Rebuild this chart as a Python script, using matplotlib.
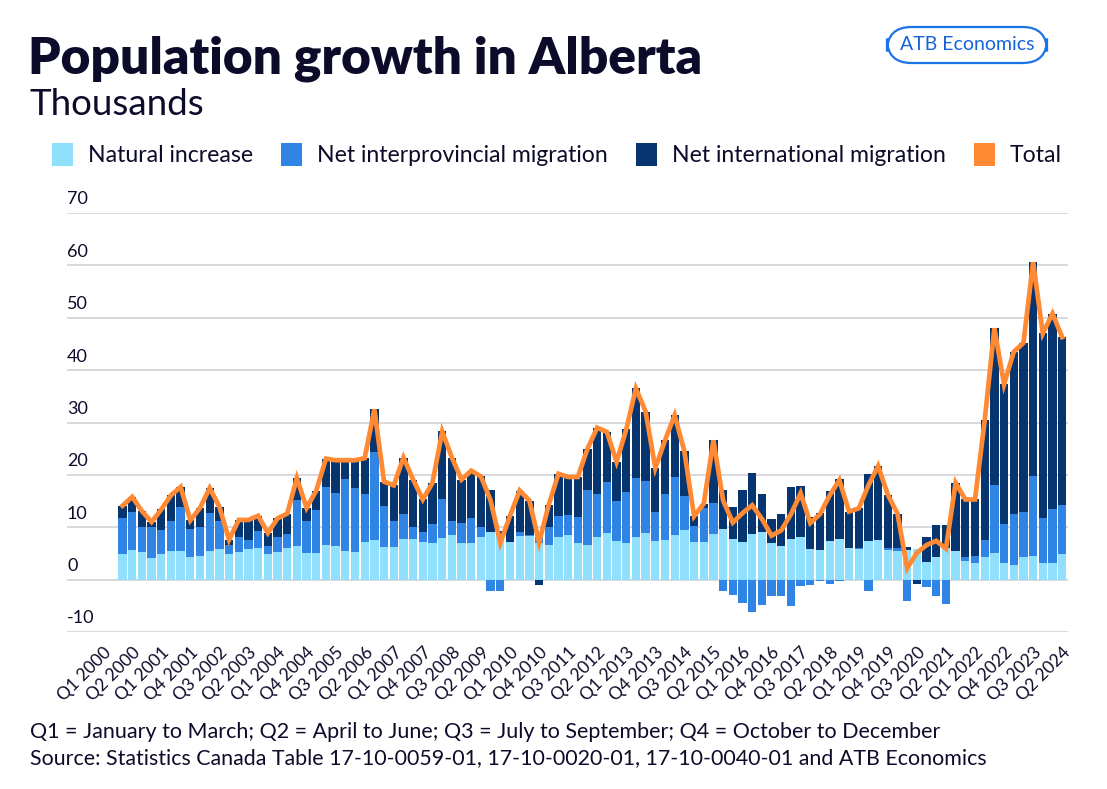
import numpy as np
import matplotlib.pyplot as plt
from matplotlib.patches import Rectangle, FancyBboxPatch

# quarterly components, thousands of persons (Q1 2000 .. Q2 2024)
natural = [4.8, 5.7, 5.2, 4.2, 4.8, 5.5, 5.5, 4.4, 4.6, 5.5, 5.9, 4.8, 5.2, 5.9, 6.1, 4.8, 5.2, 6.1, 6.4, 5.0,
           5.0, 6.6, 6.4, 5.4, 5.2, 7.1, 7.5, 6.3, 6.3, 7.8, 7.8, 7.1, 6.9, 8.0, 8.6, 6.9, 6.9, 8.2, 9.0, 8.7,
           7.2, 8.3, 8.3, 7.0, 6.7, 8.1, 8.5, 6.9, 6.7, 8.1, 8.9, 7.3, 6.9, 8.1, 8.9, 7.3, 7.6, 8.6, 9.4, 7.1,
           7.1, 8.8, 9.6, 7.8, 7.1, 8.8, 9.0, 6.9, 6.5, 7.8, 8.2, 5.9, 5.7, 7.3, 7.8, 6.1, 5.9, 7.3, 7.5, 5.6,
           5.4, 5.7, 5.9, 3.3, 4.3, 6.1, 5.4, 3.6, 3.1, 4.3, 5.0, 3.1, 2.7, 4.4, 4.6, 3.1, 3.1, 4.8]
interprov = [6.9, 7.2, 4.8, 5.8, 4.6, 5.6, 8.3, 5.3, 5.4, 7.2, 5.2, 1.8, 3.0, 1.6, 3.1, 1.7, 3.0, 2.7, 8.8, 6.1,
             8.2, 11.0, 10.2, 13.9, 12.2, 9.3, 16.8, 7.8, 4.8, 4.8, 2.3, 1.9, 3.8, 7.4, 2.5, 4.0, 4.8, 1.9, -2.1, -2.2,
             0.0, 0.7, 0.2, 1.2, 3.3, 4.0, 3.9, 5.0, 10.5, 8.3, 9.8, 7.8, 9.8, 11.3, 10.0, 5.6, 8.8, 10.9, 6.5, 3.1,
             6.5, 5.8, -2.1, -2.9, -4.5, -6.1, -4.8, -3.1, -3.2, -5.1, -1.3, -1.1, -0.3, -0.9, -0.3, 0.0, 0.2, -2.1, 0.0, 0.5,
             0.7, -4.1, 0.0, -1.5, -3.1, -4.6, 0.0, 0.7, 1.4, 3.3, 13.0, 7.6, 9.9, 8.6, 15.1, 8.6, 10.3, 9.5]
international = [2.4, 2.9, 3.1, 1.0, 4.0, 5.0, 3.9, 1.6, 3.7, 4.8, 2.8, 1.0, 3.2, 3.9, 3.0, 2.4, 3.5, 3.8, 4.2, 2.6,
                 3.8, 5.5, 6.2, 3.5, 5.4, 6.8, 8.2, 4.6, 6.9, 10.7, 9.0, 6.3, 7.8, 12.9, 12.2, 8.2, 9.1, 9.6, 8.2, 0.5,
                 5.0, 8.0, 6.6, -1.1, 4.3, 8.1, 7.2, 7.7, 7.8, 12.6, 9.5, 7.4, 12.0, 17.1, 13.2, 8.4, 10.2, 11.9, 8.6, 1.9,
                 0.9, 12.0, 7.6, 6.0, 10.1, 11.5, 7.4, 4.6, 6.1, 9.8, 9.6, 6.0, 7.1, 9.7, 11.5, 6.9, 7.5, 12.8, 14.2, 10.1,
                 6.5, 0.6, -0.8, 4.8, 6.2, 4.4, 13.1, 11.0, 10.8, 22.8, 30.0, 26.6, 30.9, 32.2, 40.9, 35.3, 37.4, 32.0]
total = [14.1, 15.8, 13.1, 11.0, 13.4, 16.1, 17.7, 11.3, 13.7, 17.5, 13.9, 7.6, 11.4, 11.4, 12.2, 8.9, 11.7, 12.6, 19.4, 13.7,
         17.0, 23.1, 22.8, 22.8, 22.8, 23.2, 32.5, 18.7, 18.0, 23.3, 19.1, 15.3, 18.5, 28.3, 23.3, 19.1, 20.8, 19.7, 15.1, 7.0,
         12.2, 17.0, 15.1, 7.1, 14.3, 20.2, 19.6, 19.6, 25.0, 29.0, 28.2, 22.5, 28.7, 36.5, 32.1, 21.3, 26.6, 31.4, 24.5, 12.1,
         14.5, 26.6, 15.1, 10.9, 12.7, 14.2, 11.6, 8.4, 9.4, 12.5, 16.5, 10.8, 12.5, 16.1, 19.0, 13.0, 13.6, 18.0, 21.7, 16.2,
         12.6, 2.2, 5.1, 6.6, 7.4, 5.9, 18.5, 15.3, 15.3, 30.4, 48.0, 37.3, 43.5, 45.2, 60.6, 47.0, 50.8, 46.3]

# the source chart puts its first label three quarters early
tick_pos = [-2] + list(range(1, 98, 3))
tick_labels = ["Q1 2000", "Q2 2000", "Q1 2001", "Q4 2001", "Q3 2002", "Q2 2003", "Q1 2004", "Q4 2004",
               "Q3 2005", "Q2 2006", "Q1 2007", "Q4 2007", "Q3 2008", "Q2 2009", "Q1 2010", "Q4 2010",
               "Q3 2011", "Q2 2012", "Q1 2013", "Q4 2013", "Q3 2014", "Q2 2015", "Q1 2016", "Q4 2016",
               "Q3 2017", "Q2 2018", "Q1 2019", "Q4 2019", "Q3 2020", "Q2 2021", "Q1 2022", "Q4 2022",
               "Q3 2023", "Q2 2024"]
y_ticks = [-10, 0, 10, 20, 30, 40, 50, 60, 70]

series = [("Natural increase", natural, "#8fdffd"),
          ("Net interprovincial migration", interprov, "#2f84e4"),
          ("Net international migration", international, "#06356f")]
line_col = "#ff8a33"
ink = "#0c0c2a"

plt.rcParams['font.family'] = ['Lato', 'DejaVu Sans']

W, H = 1107, 789
fig = plt.figure(figsize=(W / 100, H / 100), dpi=100)
ax = fig.add_axes([67 / W, (H - 632) / H, (1068 - 67) / W, (632 - 213) / H])

x = np.arange(len(natural))
pos_base = np.zeros(len(x))
neg_base = np.zeros(len(x))
for name, vals, col in series:
    v = np.array(vals)
    bottom = np.where(v >= 0, pos_base, neg_base)
    ax.bar(x, v, bottom=bottom, width=0.86, color=col, linewidth=0, zorder=2)
    pos_base = pos_base + np.clip(v, 0, None)
    neg_base = neg_base + np.clip(v, None, 0)

ax.plot(x, total, color=line_col, lw=3.4, solid_joinstyle='miter', zorder=3)

ax.set_xlim(-5.73, 97.6)
ax.set_ylim(-10, 70)
ax.set_yticks(y_ticks)
ax.set_yticklabels([])
ax.yaxis.grid(True, color="#cfcfd4", lw=1.1, zorder=0)
ax.tick_params(axis='y', length=0)
for v in y_ticks:
    ax.annotate(str(v), xy=(0, v), xycoords=ax.get_yaxis_transform(),
                xytext=(0, 4), textcoords='offset points',
                ha='left', va='bottom', fontsize=13, color=ink)

ax.set_xticks(tick_pos)
ax.set_xticklabels(tick_labels, rotation=45, ha='right', va='top',
                   rotation_mode='anchor', fontsize=12.5, color=ink)
ax.tick_params(axis='x', length=0, pad=9)
for s in ax.spines.values():
    s.set_visible(False)

# titles
fig.text(28 / W, 1 - 73 / H, "Population growth in Alberta", fontsize=37,
         fontweight='heavy', color=ink, ha='left', va='baseline')
fig.text(29 / W, 1 - 115 / H, "Thousands", fontsize=26.5, fontweight='normal',
         color=ink, ha='left', va='baseline')

# badge
badge = FancyBboxPatch((887 / W, 1 - 63 / H), 160 / W, 36 / H,
                       boxstyle="round,pad=0,rounding_size=0.022",
                       transform=fig.transFigure, facecolor='white',
                       edgecolor="#1a73e8", lw=1.6, mutation_aspect=W / H)
fig.add_artist(badge)
fig.text(967 / W, 1 - 45 / H, "ATB Economics", fontsize=14, color="#1464d8",
         ha='center', va='center')

# legend
leg_items = [("Natural increase", "#8fdffd", 52),
             ("Net interprovincial migration", "#2f84e4", 281),
             ("Net international migration", "#06356f", 636),
             ("Total", line_col, 974)]
for name, col, px in leg_items:
    fig.add_artist(Rectangle((px / W, 1 - 166 / H), 21 / W, 23 / H,
                             transform=fig.transFigure, facecolor=col, lw=0))
    fig.text((px + 36) / W, 1 - 155 / H, name, fontsize=16.6, color=ink,
             ha='left', va='center')

# notes
fig.text(30 / W, 1 - 738 / H,
         "Q1 = January to March; Q2 = April to June; Q3 = July to September; Q4 = October to December",
         fontsize=15.5, color=ink, ha='left', va='baseline')
fig.text(30 / W, 1 - 764 / H,
         "Source: Statistics Canada Table 17-10-0059-01, 17-10-0020-01, 17-10-0040-01 and ATB Economics",
         fontsize=15.4, color=ink, ha='left', va='baseline')

fig.savefig("out.png", dpi=100, facecolor='white')
